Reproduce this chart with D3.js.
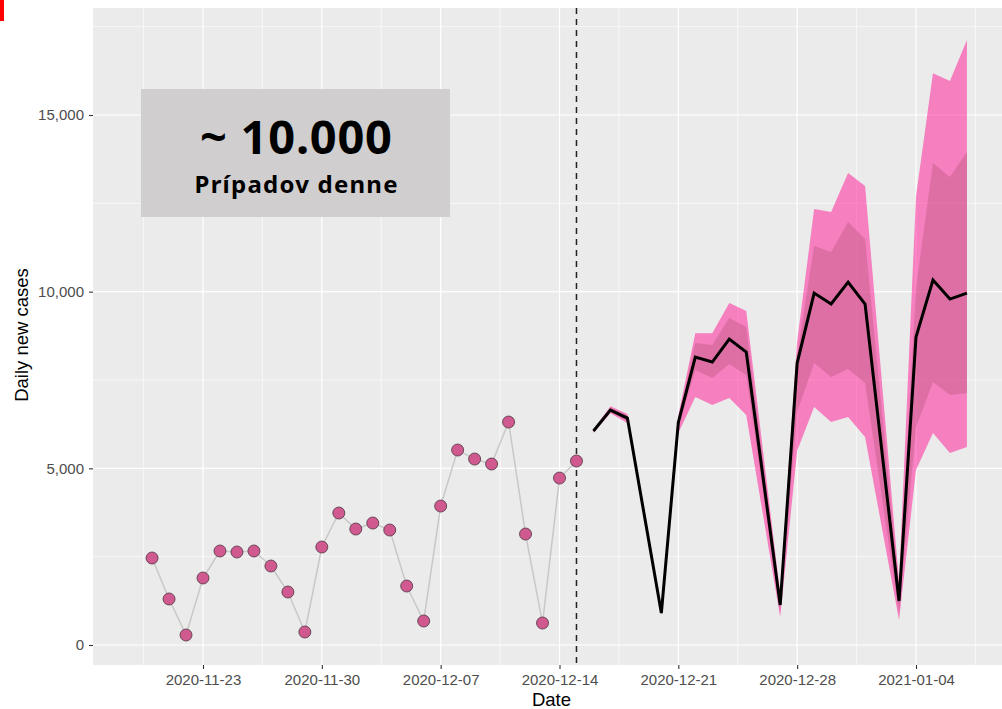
<!DOCTYPE html>
<html lang="sk">
<head>
    <meta charset="UTF-8">
    <title>Daily new cases</title>
    <style>
        body { margin: 0; background: #fff; font-family: "Liberation Sans", Arial, sans-serif; }
        #chart { width: 1002px; height: 709px; }
    </style>
    <script src="https://d3js.org/d3.v7.min.js"></script>
</head>
<body>
    <div id="chart"></div>

    <script>
        // observed daily cases
        const obsDates = ['2020-11-20','2020-11-21','2020-11-22','2020-11-23','2020-11-24','2020-11-25','2020-11-26',
            '2020-11-27','2020-11-28','2020-11-29','2020-11-30','2020-12-01','2020-12-02','2020-12-03','2020-12-04',
            '2020-12-05','2020-12-06','2020-12-07','2020-12-08','2020-12-09','2020-12-10','2020-12-11','2020-12-12',
            '2020-12-13','2020-12-14','2020-12-15'];
        const obsCases = [2462, 1302, 283, 1896, 2660, 2632, 2660, 2235, 1500, 368, 2773, 3735, 3282, 3452, 3254,
            1669, 679, 3933, 5518, 5263, 5122, 6310, 3141, 622, 4725, 5207];

        // forecast (mean + two intervals)
        const fcDates = ['2020-12-16','2020-12-17','2020-12-18','2020-12-20','2020-12-21','2020-12-22','2020-12-23',
            '2020-12-24','2020-12-25','2020-12-27','2020-12-28','2020-12-29','2020-12-30','2020-12-31','2021-01-01',
            '2021-01-03','2021-01-04','2021-01-05','2021-01-06','2021-01-07'];
        const fcMean    = [6056, 6650, 6423, 905, 6300, 8150, 8008, 8659, 8291, 1132, 7980, 9960, 9650, 10271, 9650, 1245, 8715, 10328, 9790, 9960];
        const fcOuterLo = [6000, 6560, 6280, 850, 6000, 7018, 6791, 6989, 6508, 790, 5500, 6735, 6310, 6452, 5886, 707, 4950, 6000, 5433, 5603];
        const fcOuterHi = [6100, 6760, 6540, 1000, 6500, 8824, 8824, 9677, 9450, 1450, 8600, 12337, 12253, 13356, 12990, 1800, 12700, 16185, 15960, 17120];
        const fcInnerLo = [6030, 6600, 6330, 880, 6150, 7782, 7555, 7951, 7640, 950, 6600, 7980, 7584, 7810, 7414, 900, 6168, 7442, 7074, 7130];
        const fcInnerHi = [6080, 6720, 6500, 950, 6400, 8545, 8489, 9253, 9000, 1300, 8200, 11290, 11120, 11970, 11490, 1600, 10100, 13640, 13243, 13950];

        const cutoffDate = '2020-12-15';
        const xTickDates = ['2020-11-23','2020-11-30','2020-12-07','2020-12-14','2020-12-21','2020-12-28','2021-01-04'];
        const yTicks = [0, 5000, 10000, 15000];
        const yMinor = [2500, 7500, 12500, 17500];

        const parse = d3.utcParse('%Y-%m-%d');
        const fmtDate = d3.utcFormat('%Y-%m-%d');

        const panel = {left: 93, right: 1002, top: 8, bottom: 665};

        const svg = d3.select('#chart').append('svg')
            .attr('width', 1002)
            .attr('height', 709);

        // little red mark in the corner
        svg.append('rect').attr('x', 0).attr('y', 0).attr('width', 4).attr('height', 21).attr('fill', '#ff0000');

        const x = d3.scaleUtc()
            .domain([parse('2020-11-23'), parse('2021-01-04')])
            .range([203, 916]);
        const y = d3.scaleLinear()
            .domain([0, 15000])
            .range([645, 115]);

        // panel background
        svg.append('rect')
            .attr('x', panel.left).attr('y', panel.top)
            .attr('width', panel.right - panel.left).attr('height', panel.bottom - panel.top)
            .attr('fill', '#ebebeb');

        const grid = svg.append('g');
        // minor grid
        const xMinor = xTickDates.map(d => d3.utcHour.offset(parse(d), -84));
        xMinor.push(d3.utcHour.offset(parse(xTickDates[xTickDates.length - 1]), 84));
        grid.selectAll('.vminor').data(xMinor).enter().append('line')
            .attr('x1', d => x(d)).attr('x2', d => x(d))
            .attr('y1', panel.top).attr('y2', panel.bottom)
            .attr('stroke', '#fff').attr('stroke-width', 0.6);
        grid.selectAll('.hminor').data(yMinor).enter().append('line')
            .attr('x1', panel.left).attr('x2', panel.right)
            .attr('y1', d => y(d)).attr('y2', d => y(d))
            .attr('stroke', '#fff').attr('stroke-width', 0.6);
        // major grid
        grid.selectAll('.vmajor').data(xTickDates).enter().append('line')
            .attr('x1', d => x(parse(d))).attr('x2', d => x(parse(d)))
            .attr('y1', panel.top).attr('y2', panel.bottom)
            .attr('stroke', '#fff').attr('stroke-width', 1.2);
        grid.selectAll('.hmajor').data(yTicks).enter().append('line')
            .attr('x1', panel.left).attr('x2', panel.right)
            .attr('y1', d => y(d)).attr('y2', d => y(d))
            .attr('stroke', '#fff').attr('stroke-width', 1.2);

        // annotation box
        svg.append('rect')
            .attr('x', 141).attr('y', 89).attr('width', 309).attr('height', 128)
            .attr('fill', '#d0cecf');
        svg.append('text')
            .attr('x', 296).attr('y', 154)
            .attr('text-anchor', 'middle')
            .style('font-family', '"Noto Sans", sans-serif')
            .style('font-weight', 'bold')
            .style('font-size', '47px')
            .attr('textLength', 192)
            .text('~ 10.000');
        svg.append('text')
            .attr('x', 296).attr('y', 193)
            .attr('text-anchor', 'middle')
            .style('font-family', '"Noto Sans", sans-serif')
            .style('font-weight', 'bold')
            .style('font-size', '24px')
            .attr('textLength', 203)
            .text('Prípadov denne');

        // forecast bands
        const fc = fcDates.map((d, i) => ({
            date: parse(d), mean: fcMean[i],
            oLo: fcOuterLo[i], oHi: fcOuterHi[i], iLo: fcInnerLo[i], iHi: fcInnerHi[i]
        }));
        svg.append('path')
            .datum(fc)
            .attr('fill', 'deeppink').attr('fill-opacity', 0.5)
            .attr('d', d3.area().x(d => x(d.date)).y0(d => y(d.oLo)).y1(d => y(d.oHi)));
        svg.append('path')
            .datum(fc)
            .attr('fill', '#c8608b').attr('fill-opacity', 0.5)
            .attr('d', d3.area().x(d => x(d.date)).y0(d => y(d.iLo)).y1(d => y(d.iHi)));
        svg.append('path')
            .datum(fc)
            .attr('fill', 'none').attr('stroke', '#000').attr('stroke-width', 3)
            .attr('d', d3.line().x(d => x(d.date)).y(d => y(d.mean)));

        // observed
        const obs = obsDates.map((d, i) => ({date: parse(d), value: obsCases[i]}));
        svg.append('path')
            .datum(obs)
            .attr('fill', 'none').attr('stroke', '#c8c8c8').attr('stroke-width', 1.5)
            .attr('d', d3.line().x(d => x(d.date)).y(d => y(d.value)));

        // cutoff line
        svg.append('line')
            .attr('x1', x(parse(cutoffDate))).attr('x2', x(parse(cutoffDate)))
            .attr('y1', panel.top).attr('y2', panel.bottom)
            .attr('stroke', '#222').attr('stroke-width', 1.5)
            .attr('stroke-dasharray', '6,5');

        svg.selectAll('.pt').data(obs).enter().append('circle')
            .attr('cx', d => x(d.date)).attr('cy', d => y(d.value)).attr('r', 6)
            .attr('fill', '#d05a8f').attr('stroke', '#4d3340').attr('stroke-width', 0.8);

        // axes
        const xAxis = svg.append('g')
            .attr('transform', `translate(0, ${panel.bottom})`)
            .call(d3.axisBottom(x).tickValues(xTickDates.map(parse)).tickFormat(fmtDate).tickSize(4).tickPadding(5));
        const yAxis = svg.append('g')
            .attr('transform', `translate(${panel.left}, 0)`)
            .call(d3.axisLeft(y).tickValues(yTicks).tickFormat(d3.format(',')).tickSize(4).tickPadding(5));
        [xAxis, yAxis].forEach(g => {
            g.select('.domain').remove();
            g.selectAll('line').attr('stroke', '#333').attr('stroke-width', 1.1);
            g.selectAll('text').attr('fill', '#4d4d4d')
                .style('font-family', '"Liberation Sans", Arial, sans-serif').style('font-size', '15px');
        });

        svg.append('text')
            .attr('x', (panel.left + panel.right) / 2 + 4).attr('y', 706)
            .attr('text-anchor', 'middle')
            .style('font-size', '18.5px')
            .text('Date');
        svg.append('text')
            .attr('transform', 'rotate(-90)')
            .attr('x', -335).attr('y', 28)
            .attr('text-anchor', 'middle')
            .style('font-size', '18.5px')
            .text('Daily new cases');
    </script>
</body>
</html>
